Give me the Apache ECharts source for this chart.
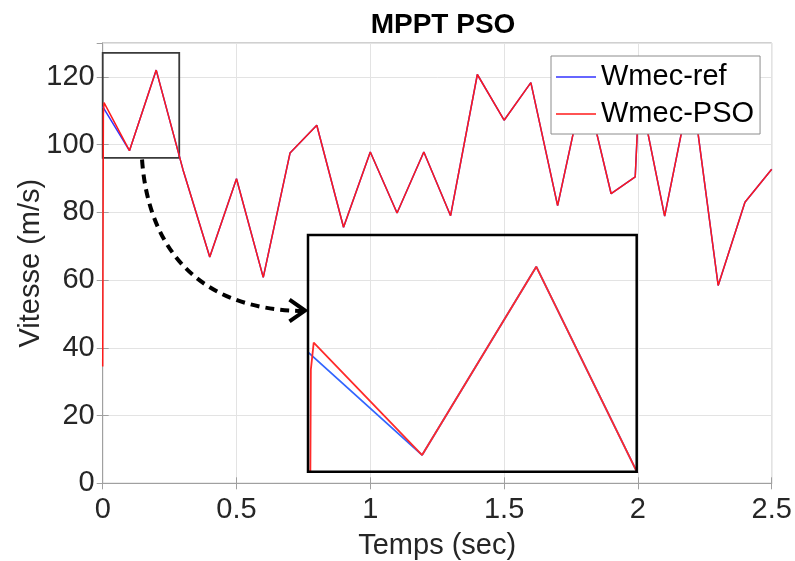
<!DOCTYPE html>
<html>
<head>
<meta charset="utf-8">
<script src="https://cdn.jsdelivr.net/npm/echarts@6/dist/echarts.min.js"></script>
<style>
  html, body { margin: 0; padding: 0; background: #fff; }
  #chart { width: 795px; height: 561px; }
</style>
</head>
<body>
<div id="chart"></div>
<script>
var myChart = echarts.init(document.getElementById('chart'));

// vitesse de reference (m/s) en fonction du temps (s)
var timeRef = [0, 0.1, 0.2, 0.3, 0.4, 0.5, 0.6, 0.7, 0.8, 0.9, 1.0, 1.1, 1.2, 1.3, 1.4, 1.5, 1.6, 1.7, 1.8, 1.9, 1.99, 2.005, 2.1, 2.2, 2.3, 2.4, 2.5];
var wmecRef = [111.2, 98.2, 122.0, 92.6, 66.8, 89.9, 60.8, 97.5, 105.7, 75.6, 97.8, 79.8, 97.8, 79.0, 120.7, 107.2, 118.3, 82.0, 118.6, 85.5, 90.5, 116.0, 78.9, 118.1, 58.4, 83.0, 92.7];

// vitesse obtenue par PSO
var timePSO = [0, 0.0025, 0.005, 0.1, 0.2, 0.3, 0.4, 0.5, 0.6, 0.7, 0.8, 0.9, 1.0, 1.1, 1.2, 1.3, 1.4, 1.5, 1.6, 1.7, 1.8, 1.9, 1.99, 2.005, 2.1, 2.2, 2.3, 2.4, 2.5];
var wmecPSO = [34.5, 109.0, 112.4, 98.2, 122.0, 92.6, 66.8, 89.9, 60.8, 97.5, 105.7, 75.6, 97.8, 79.8, 97.8, 79.0, 120.7, 107.2, 118.3, 82.0, 118.6, 85.5, 90.5, 116.0, 78.9, 118.1, 58.4, 83.0, 92.7];

// zone agrandie [t0, t1, v0, v1]
var zoomBox = [0, 0.288, 96.1, 126.0];
var markBox = [0, 0.286, 96.1, 127.1];

// fleche (coordonnees donnees)
var arrowPath = [[0.147, 95.6], [0.169, 70.5], [0.345, 51.2], [0.749, 50.9]];
var arrowHead = [[0.698, 54.2], [0.756, 51.0], [0.698, 47.8]];

function pairs(xs, ys) {
  var out = [];
  for (var i = 0; i < xs.length; i++) out.push([xs[i], ys[i]]);
  return out;
}

var font = 'Liberation Sans, Arial, sans-serif';
var axisGray = '#a0a0a0';
var txt = '#262626';

myChart.setOption({
  animation: false,
  backgroundColor: '#fff',
  title: {
    text: 'MPPT PSO',
    left: 438, top: 6, textAlign: 'center',
    textStyle: { fontFamily: font, fontSize: 28, fontWeight: 'bold', color: '#000' }
  },
  legend: {
    orient: 'vertical',
    left: 551, top: 56,
    padding: [6, 6, 5, 5],
    itemGap: 7,
    itemWidth: 40,
    itemHeight: 1.6,
    icon: 'rect',
    backgroundColor: '#fff',
    borderColor: '#8c8c8c',
    borderWidth: 1,
    borderRadius: 0,
    textStyle: { fontFamily: font, fontSize: 29, color: '#000', lineHeight: 30 },
    data: ['Wmec-ref', 'Wmec-PSO']
  },
  grid: [
    { left: 102.7, right: 23.3, top: 43, bottom: 77.7, outerBoundsMode: 'none', containLabel: false, show: true, borderColor: axisGray, borderWidth: 1, backgroundColor: 'transparent' },
    { left: 308, top: 235, width: 328.7, height: 236.7, outerBoundsMode: 'none', containLabel: false, show: true, borderColor: '#000', borderWidth: 2.5, backgroundColor: 'transparent', z: 5 }
  ],
  xAxis: [
    {
      gridIndex: 0, type: 'value', min: 0, max: 2.5, interval: 0.5,
      name: 'Temps (sec)', nameLocation: 'middle', nameGap: 48, nameMoveOverlap: false,
      nameTextStyle: { fontFamily: font, fontSize: 29, color: txt },
      axisLine: { lineStyle: { color: axisGray } },
      axisTick: { inside: true, length: 6, lineStyle: { color: axisGray } },
      axisLabel: { fontFamily: font, fontSize: 29, color: txt, margin: 12 },
      splitLine: { show: true, lineStyle: { color: '#e3e3e3' } }
    },
    {
      gridIndex: 0, type: 'value', position: 'top', min: 0, max: 2.5, interval: 0.5,
      axisLine: { lineStyle: { color: axisGray } },
      axisTick: { inside: true, length: 6, lineStyle: { color: axisGray } },
      axisLabel: { show: false }, splitLine: { show: false }
    },
    {
      gridIndex: 1, type: 'value', min: zoomBox[0], max: zoomBox[1], show: false
    }
  ],
  yAxis: [
    {
      gridIndex: 0, type: 'value', min: 0, max: 130, interval: 20,
      name: 'Vitesse (m/s)', nameLocation: 'middle', nameGap: 57, nameMoveOverlap: false,
      nameTextStyle: { fontFamily: font, fontSize: 29, color: txt },
      axisLine: { show: true, lineStyle: { color: axisGray } },
      axisTick: { show: true, inside: true, length: 6, lineStyle: { color: axisGray } },
      axisLabel: { fontFamily: font, fontSize: 29, color: txt, margin: 8, showMaxLabel: false },
      splitLine: { show: true, lineStyle: { color: '#e3e3e3' } }
    },
    {
      gridIndex: 0, type: 'value', position: 'right', min: 0, max: 130, interval: 20,
      axisLine: { show: true, lineStyle: { color: axisGray } },
      axisTick: { show: true, inside: true, length: 6, lineStyle: { color: axisGray } },
      axisLabel: { show: false }, splitLine: { show: false }
    },
    {
      gridIndex: 1, type: 'value', min: zoomBox[2], max: zoomBox[3], show: false
    }
  ],
  series: [
    {
      name: 'Wmec-ref', type: 'line', xAxisIndex: 0, yAxisIndex: 0,
      data: pairs(timeRef, wmecRef), symbol: 'none',
      lineStyle: { color: '#3333ff', width: 1.5 }, itemStyle: { color: '#3333ff' },
      markArea: {
        silent: true,
        itemStyle: { color: 'rgba(0,0,0,0)', borderColor: '#3a3a3a', borderWidth: 1.8 },
        data: [[{ coord: [markBox[0], markBox[2]] }, { coord: [markBox[1], markBox[3]] }]]
      }
    },
    {
      name: 'Wmec-PSO', type: 'line', xAxisIndex: 0, yAxisIndex: 0,
      data: pairs(timePSO, wmecPSO), symbol: 'none',
      lineStyle: { color: '#ff1a1a', width: 1.5 }, itemStyle: { color: '#ff1a1a' }
    },
    {
      name: 'Wmec-ref', type: 'line', xAxisIndex: 2, yAxisIndex: 2,
      data: pairs(timeRef, wmecRef), symbol: 'none', clip: true,
      lineStyle: { color: '#3366ff', width: 1.8 }
    },
    {
      name: 'Wmec-PSO', type: 'line', xAxisIndex: 2, yAxisIndex: 2,
      data: pairs(timePSO, wmecPSO), symbol: 'none', clip: true,
      lineStyle: { color: '#ff2a2a', width: 1.8 }
    }
  ]
});

// fleche en pointilles, placee a partir des coordonnees des donnees
function px(p) { return myChart.convertToPixel({ gridIndex: 0 }, p); }
var a = arrowPath.map(px);
var h = arrowHead.map(px);
myChart.setOption({
  graphic: [
    {
      type: 'bezierCurve', z: 20,
      shape: { x1: a[0][0], y1: a[0][1], cpx1: a[1][0], cpy1: a[1][1], cpx2: a[2][0], cpy2: a[2][1], x2: a[3][0], y2: a[3][1] },
      style: { stroke: '#000', lineWidth: 4, lineDash: [9, 6], fill: null }
    },
    {
      type: 'polyline', z: 20,
      shape: { points: h },
      style: { stroke: '#000', lineWidth: 4, fill: null, lineJoin: 'miter' }
    }
  ]
});
</script>
</body>
</html>
